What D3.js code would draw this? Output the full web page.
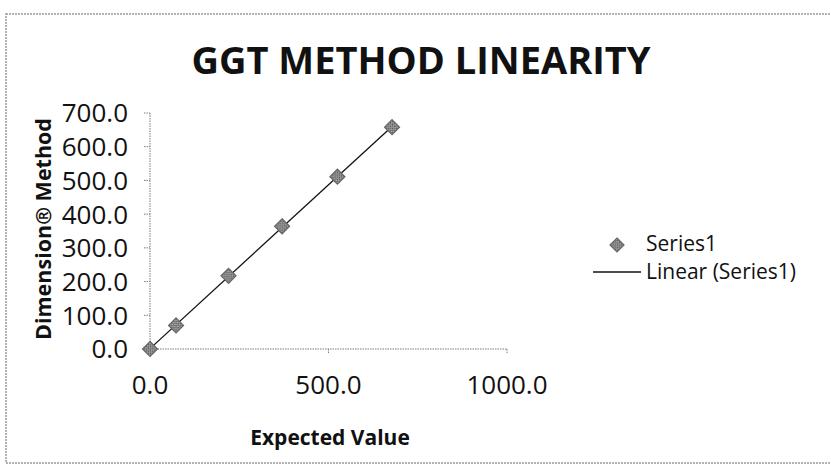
<!DOCTYPE html>
<html>
  <head>
    <title>GGT Method Linearity</title>
    <style type="text/css">
        body{
            margin: 0;
            background: #ffffff;
        }
        text{
            font-family: "Open Sans", sans-serif;
            fill: #111;
        }
        .axis-line{
            stroke: #7a7a7a;
            stroke-width: 1px;
            stroke-dasharray: 1.5,1;
        }
        .marker{
            fill: url(#checker);
            stroke: #666;
            stroke-width: 1.2px;
        }
    </style>
  </head>
  <body>
    <div id="chart"></div>
    <script src="https://cdn.jsdelivr.net/npm/d3@7"></script>
    <script>
        // values
        var expected = [0, 73, 220, 370, 525, 678];
        var measured = [0, 70, 217, 364, 511, 658];
        var xTicks = [0, 500, 1000];
        var yTicks = [0, 100, 200, 300, 400, 500, 600, 700];
        var legendLabels = ["Series1", "Linear (Series1)"];

        var width = 831, height = 466;

        var svg = d3.select("#chart").append("svg")
            .attr("width", width)
            .attr("height", height);

        //  checkered grey fill for the diamonds (as printed)
        var pat = svg.append("defs").append("pattern")
            .attr("id", "checker")
            .attr("width", 3).attr("height", 3)
            .attr("patternUnits", "userSpaceOnUse")
            .attr("patternTransform", "rotate(45)");
        pat.append("rect").attr("width", 3).attr("height", 3).attr("fill", "#b5b5b5");
        pat.append("rect").attr("width", 1.5).attr("height", 1.5).attr("fill", "#555");
        pat.append("rect").attr("x", 1.5).attr("y", 1.5)
            .attr("width", 1.5).attr("height", 1.5).attr("fill", "#555");

        // outer chart frame (runs off the right edge like in the scan)
        svg.append("rect")
            .attr("x", 6).attr("y", 14)
            .attr("width", 840).attr("height", 449)
            .attr("fill", "none")
            .attr("stroke", "#9a9a9a")
            .attr("stroke-width", 1.5)
            .attr("stroke-dasharray", "2,1");

        var x = d3.scaleLinear().domain([0, 1000]).range([150, 507]);
        var y = d3.scaleLinear().domain([0, 700]).range([349, 113]);

        // title
        svg.append("text")
            .attr("x", 421).attr("y", 74)
            .attr("text-anchor", "middle")
            .style("font-size", "38px")
            .style("font-weight", "bold")
            .text("GGT METHOD LINEARITY");

        // y axis
        var gy = svg.append("g");
        gy.append("line").attr("class", "axis-line")
            .attr("x1", x(0)).attr("x2", x(0))
            .attr("y1", y(700)).attr("y2", y(0));
        gy.selectAll(".ytick").data(yTicks).enter().append("line")
            .attr("class", "axis-line")
            .attr("x1", x(0) - 6).attr("x2", x(0))
            .attr("y1", d => y(d)).attr("y2", d => y(d));
        gy.selectAll(".ylab").data(yTicks).enter().append("text")
            .attr("x", 128)
            .attr("y", d => y(d))
            .attr("dy", "0.36em")
            .attr("text-anchor", "end")
            .style("font-size", "26px")
            .text(d => d3.format(".1f")(d));

        // x axis
        var gx = svg.append("g");
        gx.append("line").attr("class", "axis-line")
            .attr("x1", x(0)).attr("x2", x(1000))
            .attr("y1", y(0)).attr("y2", y(0));
        gx.selectAll(".xtick").data(xTicks).enter().append("line")
            .attr("class", "axis-line")
            .attr("x1", d => x(d)).attr("x2", d => x(d))
            .attr("y1", y(0)).attr("y2", y(0) + 5);
        gx.selectAll(".xlab").data(xTicks).enter().append("text")
            .attr("x", d => x(d))
            .attr("y", 385)
            .attr("dy", "0.36em")
            .attr("text-anchor", "middle")
            .style("font-size", "26px")
            .text(d => d3.format(".1f")(d));

        // axis titles
        svg.append("text")
            .attr("transform", "translate(43,229) rotate(-90)")
            .attr("text-anchor", "middle")
            .attr("dy", "0.35em")
            .style("font-size", "21.5px")
            .style("font-weight", "bold")
            .text("Dimension\u00AE Method");

        svg.append("text")
            .attr("x", 330).attr("y", 438)
            .attr("dy", "0.35em")
            .attr("text-anchor", "middle")
            .style("font-size", "21px")
            .style("font-weight", "bold")
            .text("Expected Value");

        // least squares trend line
        var mx = d3.mean(expected), my = d3.mean(measured);
        var sxy = d3.sum(expected, (d, i) => (d - mx) * (measured[i] - my));
        var sxx = d3.sum(expected, d => (d - mx) * (d - mx));
        var slope = sxy / sxx, icpt = my - slope * mx;
        var xr = d3.extent(expected);

        svg.append("line")
            .attr("x1", x(xr[0])).attr("y1", y(Math.max(0, icpt + slope * xr[0])))
            .attr("x2", x(xr[1])).attr("y2", y(icpt + slope * xr[1]))
            .attr("stroke", "#111")
            .attr("stroke-width", 1.3);

        // diamond markers
        function diamond(cx, cy, r){
            return "M" + cx + "," + (cy - r) + "L" + (cx + r) + "," + cy +
                   "L" + cx + "," + (cy + r) + "L" + (cx - r) + "," + cy + "Z";
        }

        svg.append("g").selectAll("path")
            .data(expected)
            .enter().append("path")
                .attr("class", "marker")
                .attr("d", (d, i) => diamond(x(d), y(measured[i]), 7.5));

        // legend
        var lg = svg.append("g");
        lg.append("path")
            .attr("class", "marker")
            .attr("d", diamond(617, 245, 7));
        lg.append("line")
            .attr("x1", 593).attr("x2", 641)
            .attr("y1", 272).attr("y2", 272)
            .attr("stroke", "#111").attr("stroke-width", 1.3);
        lg.selectAll("text").data(legendLabels).enter().append("text")
            .attr("x", 646)
            .attr("y", (d, i) => 244 + i * 28)
            .attr("dy", "0.35em")
            .style("font-size", "21px")
            .text(d => d);
    </script>
  </body>
</html>
